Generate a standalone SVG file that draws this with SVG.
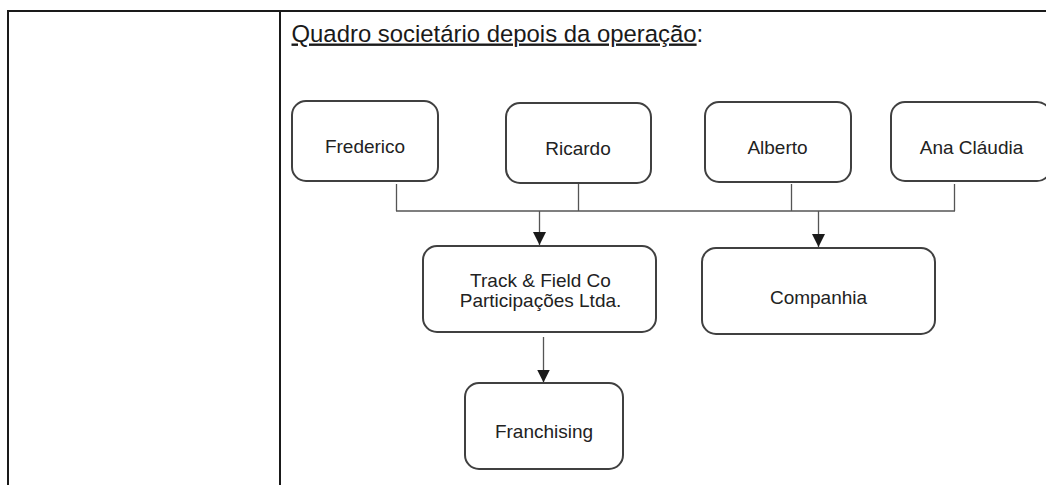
<svg xmlns="http://www.w3.org/2000/svg" width="1046" height="485" viewBox="0 0 1046 485">
<style>
.frame{stroke:#1a1a1a;stroke-width:2;fill:none}
.box{fill:#fff;stroke:#404040;stroke-width:2}
.lbl{font-family:"Liberation Sans",Arial,sans-serif;font-size:19px;fill:#222;text-anchor:middle}
.title{font-family:"Liberation Sans",Arial,sans-serif;font-size:23.9px;fill:#1a1a1a}
.conn{stroke:#555;stroke-width:1.3;fill:none}
</style>
<defs>
<marker id="arr" markerWidth="13" markerHeight="13" refX="13" refY="6.5" orient="auto" markerUnits="userSpaceOnUse" viewBox="0 0 13 13">
<path d="M0,0 L13,6.5 L0,13 Z" fill="#1a1a1a"/>
</marker>
</defs>
<g id="table">
<line class="frame" x1="8" y1="11" x2="1046" y2="11"/>
<line class="frame" x1="8" y1="10" x2="8" y2="485"/>
<line class="frame" x1="280" y1="11" x2="280" y2="485"/>
</g>
<g id="title">
<text class="title" x="291.5" y="41.5"><tspan text-decoration="underline">Quadro societário depois da operação</tspan>:</text>
</g>
<g id="connectors">
<line class="conn" x1="396.5" y1="184" x2="396.5" y2="211"/>
<line class="conn" x1="578.5" y1="184" x2="578.5" y2="211"/>
<line class="conn" x1="791.5" y1="184" x2="791.5" y2="211"/>
<line class="conn" x1="954.5" y1="184" x2="954.5" y2="211"/>
<line class="conn" x1="396" y1="211" x2="955" y2="211"/>
<line class="conn" x1="539.5" y1="211" x2="539.5" y2="245" marker-end="url(#arr)"/>
<line class="conn" x1="818.5" y1="211" x2="818.5" y2="247" marker-end="url(#arr)"/>
<line class="conn" x1="543.5" y1="337" x2="543.5" y2="382.5" marker-end="url(#arr)"/>
</g>
<g id="n-frederico">
<rect class="box" x="292" y="101" width="146" height="80" rx="14"/>
<text class="lbl" x="365" y="153">Frederico</text>
</g>
<g id="n-ricardo">
<rect class="box" x="506" y="103" width="145" height="80" rx="14"/>
<text class="lbl" x="578" y="155">Ricardo</text>
</g>
<g id="n-alberto">
<rect class="box" x="705" y="102" width="146" height="80" rx="14"/>
<text class="lbl" x="777.5" y="154">Alberto</text>
</g>
<g id="n-ana">
<rect class="box" x="891" y="102" width="160" height="79" rx="14"/>
<text class="lbl" x="971.5" y="154">Ana Cláudia</text>
</g>
<g id="n-track">
<rect class="box" x="423" y="246" width="233" height="86" rx="14"/>
<text class="lbl" x="540.5" y="286.5">Track &amp; Field Co</text>
<text class="lbl" x="540.5" y="307">Participações Ltda.</text>
</g>
<g id="n-companhia">
<rect class="box" x="702" y="248" width="233" height="86" rx="14"/>
<text class="lbl" x="818.5" y="304">Companhia</text>
</g>
<g id="n-franchising">
<rect class="box" x="465" y="383" width="158" height="86" rx="14"/>
<text class="lbl" x="544" y="438">Franchising</text>
</g>
</svg>
